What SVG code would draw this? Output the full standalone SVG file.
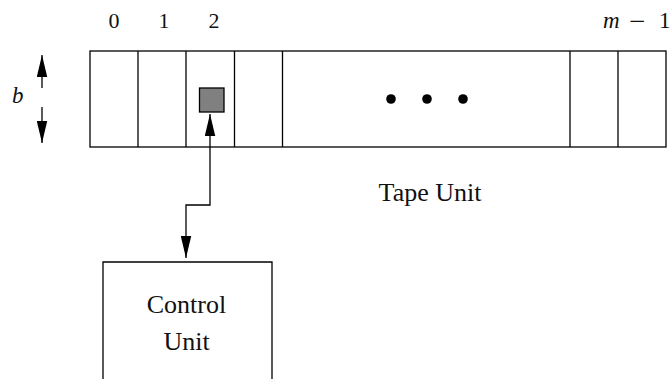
<svg xmlns="http://www.w3.org/2000/svg" width="671" height="379" viewBox="0 0 671 379">
<style>
.ln{fill:none;stroke:#000;stroke-width:1.3}
.t{font-family:"Liberation Serif",serif;fill:#111}
.lab{font-size:26px;text-anchor:middle}
.num{font-size:22px;text-anchor:middle}
.it{font-style:italic}
</style>
<defs>
<marker id="ah" markerUnits="userSpaceOnUse" markerWidth="22" markerHeight="11" viewBox="0 0 21 10" refX="21" refY="5" orient="auto-start-reverse">
<path d="M0,0 L21,5 L0,10 z" fill="#000"/>
</marker>
</defs>
<rect width="671" height="379" fill="#fff"/>
<g id="tape">
<rect class="ln" x="90" y="51" width="576" height="96"/>
<path class="ln" d="M138,51V147M186,51V147M234.5,51V147M282.5,51V147M570,51V147M618,51V147"/>
<rect id="head" x="199.5" y="88" width="24.5" height="24" fill="#808080" stroke="#000" stroke-width="1.3"/>
<circle cx="391" cy="99" r="4.8" fill="#000"/>
<circle cx="427" cy="99" r="4.8" fill="#000"/>
<circle cx="463" cy="99" r="4.8" fill="#000"/>
<text class="t num" x="114" y="28">0</text>
<text class="t num" x="164" y="28">1</text>
<text class="t num" x="214" y="28">2</text>
<text class="t" style="font-size:23px"><tspan class="it" x="603" y="28">m</tspan><tspan x="629" y="31" style="font-size:29px">−</tspan><tspan x="659" y="28">1</tspan></text>
<text class="t lab" x="430" y="201">Tape Unit</text>
</g>
<g id="width-label">
<text class="t it" x="12" y="103" style="font-size:23px">b</text>
</g>
<g id="control">
<path class="ln" d="M103,385V262H272V385"/>
<text class="t lab" x="186.5" y="313">Control</text>
<text class="t lab" x="186.5" y="350">Unit</text>
</g>
<g id="connectors">
<path class="ln" d="M210,114V205H186V258" marker-start="url(#ah)" marker-end="url(#ah)"/>
<path class="ln" d="M42,88V55" marker-end="url(#ah)"/>
<path class="ln" d="M42,107V143" marker-end="url(#ah)"/>
</g>
</svg>
